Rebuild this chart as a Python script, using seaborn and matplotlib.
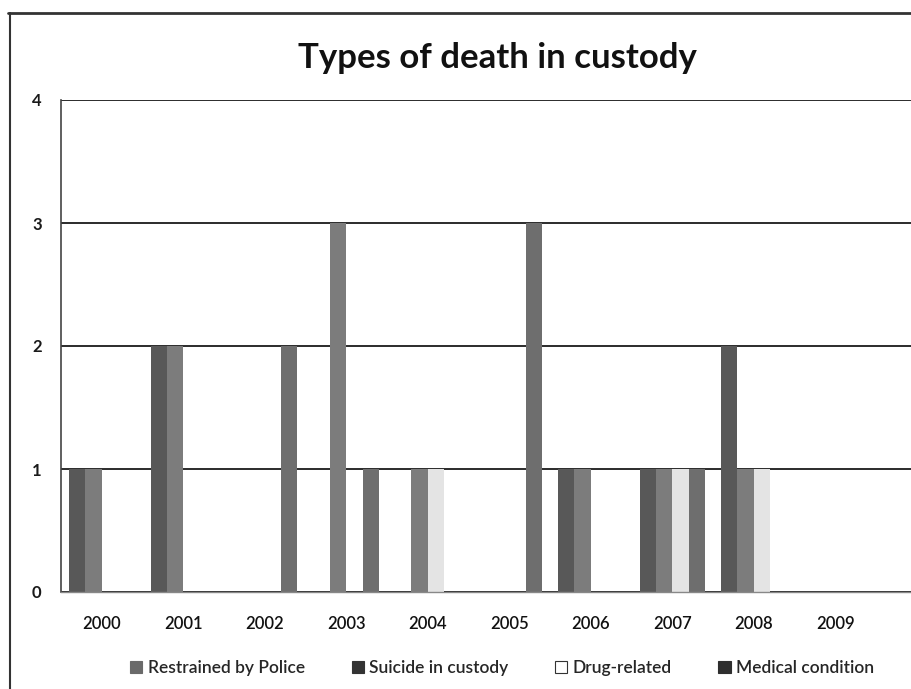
import numpy as np
import pandas as pd
import matplotlib
matplotlib.use("Agg")
import matplotlib.pyplot as plt
from matplotlib.lines import Line2D
from matplotlib.patches import Patch
import seaborn as sns

years = ["2000", "2001", "2002", "2003", "2004", "2005", "2006", "2007", "2008", "2009"]
restrained = [1, 2, 0, 0, 0, 0, 1, 1, 2, 0]
suicide = [1, 2, 0, 3, 1, 0, 1, 1, 1, 0]
drug_related = [0, 0, 0, 0, 1, 0, 0, 1, 1, 0]
medical = [0, 0, 2, 1, 0, 3, 0, 1, 0, 0]

series_names = ["Restrained by Police", "Suicide in custody", "Drug-related", "Medical condition"]
series_values = [restrained, suicide, drug_related, medical]
series_colors = ["#585858", "#7c7c7c", "#e4e4e4", "#6e6e6e"]
legend_colors = ["#6a6a6a", "#333333", "#ffffff", "#2e2e2e"]

rows = []
for name, vals in zip(series_names, series_values):
    for yr, v in zip(years, vals):
        rows.append({"Year": yr, "Deaths": v, "Type": name})
df = pd.DataFrame(rows)

sns.set_theme(style="white")
plt.rcParams["font.family"] = ["Lato", "DejaVu Sans"]

fig = plt.figure(figsize=(9.12, 6.89), dpi=100)
W, H = 912, 689
ax = fig.add_axes([61 / W, 1 - 592 / H, (912 - 61) / W, (592 - 100) / H])

sns.barplot(data=df, x="Year", y="Deaths", hue="Type", hue_order=series_names,
            palette=series_colors, width=0.8, ax=ax, legend=False,
            edgecolor="none", linewidth=0)

ax.set_ylim(0, 4)
ax.set_xlim(-0.5, -0.5 + 851 / 81.5)
ax.set_yticks([0, 1, 2, 3, 4])
ax.set_yticklabels(["0", "1", "2", "3", "4"], fontweight="bold", fontsize=12, color="#1a1a1a")
ax.set_xticks(range(len(years)))
ax.set_xticklabels(years, fontsize=12, color="#111111", fontweight="semibold")
ax.set_xticks(np.arange(-0.5, len(years) + 0.5, 1), minor=True)
ax.tick_params(axis="x", which="major", length=0, pad=17)
ax.tick_params(axis="x", which="minor", length=6, width=1, color="#444444", direction="out")
ax.tick_params(axis="y", which="major", length=6, width=1, color="#444444", direction="out", pad=8)
ax.set_xlabel("")
ax.set_ylabel("")

ax.yaxis.grid(True, color="#1a1a1a", linewidth=1.3)
ax.set_axisbelow(True)
for side in ["top", "right"]:
    ax.spines[side].set_visible(False)
ax.spines["left"].set_color("#444444")
ax.spines["left"].set_linewidth(1.2)
ax.spines["bottom"].set_color("#888888")
ax.spines["bottom"].set_linewidth(1.0)

# Chart frame (left and top edges)
fig.add_artist(Line2D([10 / W, 10 / W], [0, 1 - 13 / H], color="#333333", linewidth=1.5))
fig.add_artist(Line2D([8 / W, 1], [1 - 13 / H, 1 - 13 / H], color="#333333", linewidth=2))

fig.text(497 / W, 1 - 58 / H, "Types of death in custody", ha="center", va="center",
         fontsize=25, fontweight="bold", color="#111111")

handles = [Patch(facecolor=c, edgecolor="#333333" if c == "#ffffff" else c, linewidth=0.8)
           for c in legend_colors]
fig.legend(handles, series_names, loc="center", bbox_to_anchor=(502 / W, 1 - 668 / H),
           ncol=4, frameon=False, handlelength=0.7, handleheight=0.7,
           handletextpad=0.3, columnspacing=2.7,
           prop={"size": 12.5, "weight": "semibold"})

fig.savefig("out.png", dpi=100, facecolor="white")
